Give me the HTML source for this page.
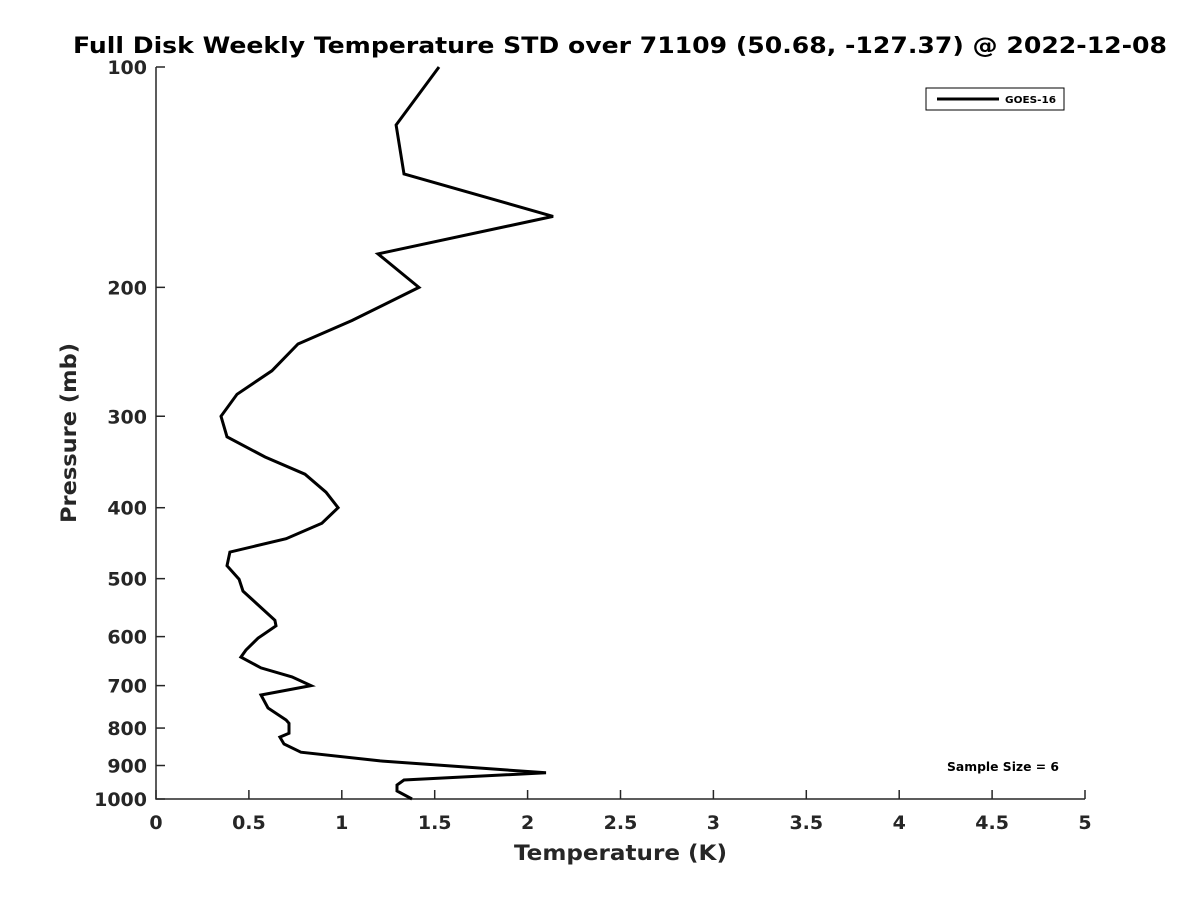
<!DOCTYPE html>
<html><head><meta charset="utf-8"><style>
body{margin:0;background:#fff;}
svg{display:block;font-family:"DejaVu Sans","Liberation Sans",sans-serif;}
</style></head><body>
<svg id="chart" width="1200" height="900" viewBox="0 0 1200 900">
<rect width="1200" height="900" fill="#fff"/>
<text x="73" y="53" font-size="22" font-weight="bold" fill="#000" textLength="1094" lengthAdjust="spacingAndGlyphs">Full Disk Weekly Temperature STD over 71109 (50.68, -127.37) @ 2022-12-08</text>
<g id="axes"></g>
<path id="profile" fill="none" stroke="#000" stroke-width="3" stroke-linejoin="miter"/>
<g>
<rect x="926" y="88" width="138" height="22" fill="#fff" stroke="#000" stroke-width="1"/>
<line x1="937" y1="99" x2="999" y2="99" stroke="#000" stroke-width="3"/>
<text x="1005" y="103" font-size="10" font-weight="bold" textLength="51" lengthAdjust="spacingAndGlyphs">GOES-16</text>
</g>
<text x="947" y="771" font-size="12" font-weight="bold" textLength="112" lengthAdjust="spacingAndGlyphs">Sample Size = 6</text>
<text x="514" y="860" font-size="21" font-weight="bold" fill="#262626" textLength="213" lengthAdjust="spacingAndGlyphs">Temperature (K)</text>
<text transform="translate(76,523) rotate(-90)" font-size="21" font-weight="bold" fill="#262626" textLength="180" lengthAdjust="spacingAndGlyphs">Pressure (mb)</text>
</svg>
<script>
const xTicks=[0,0.5,1,1.5,2,2.5,3,3.5,4,4.5,5];
const xTickLabels=["0","0.5","1","1.5","2","2.5","3","3.5","4","4.5","5"];
const yTicks=[100,200,300,400,500,600,700,800,900,1000];
const yTickLabels=["100","200","300","400","500","600","700","800","900","1000"];
const pressure=[100,120,140,160,180,200,222,239,260,280,300,320,341,360,381,400,420,441,460,480,501,520,570,580,603,626,640,662,681,700,721,751,780,788,813,823,841,863,887,921,942,957,975,1000];
const tempStd=[1.523,1.292,1.335,2.137,1.195,1.415,1.055,0.764,0.624,0.436,0.35,0.382,0.587,0.802,0.915,0.98,0.893,0.70,0.398,0.382,0.447,0.468,0.64,0.646,0.549,0.484,0.457,0.565,0.732,0.834,0.565,0.603,0.70,0.716,0.716,0.667,0.689,0.78,1.206,2.099,1.335,1.297,1.297,1.378];
const X0=156,X1=1085,Y0=67,Y1=799;
const xs=v=>X0+(v-0)/(5-0)*(X1-X0);
const ys=p=>Y0+(Math.log10(p)-2)/(3-2)*(Y1-Y0);
const NS="http://www.w3.org/2000/svg";
const ax=document.getElementById('axes');
function mk(t,a){const e=document.createElementNS(NS,t);for(const k in a)e.setAttribute(k,a[k]);return e;}
const axl=mk('path',{d:`M${X0},${Y0}V${Y1}H${X1}`,fill:'none',stroke:'#262626','stroke-width':1.5});


ax.appendChild(axl);
xTicks.forEach((v,i)=>{
  const t=mk('line',{x1:xs(v),x2:xs(v),y1:Y1,y2:Y1-9,stroke:'#262626','stroke-width':1.5});
  
  
  ax.appendChild(t);
  const l=mk('text',{x:xs(v),y:Y1+30,'text-anchor':'middle','font-size':19,'font-weight':'bold',fill:'#262626'});
  l.textContent=xTickLabels[i];
  
  
  ax.appendChild(l);
});
yTicks.forEach((p,i)=>{
  const t=mk('line',{x1:X0,x2:X0+9,y1:ys(p),y2:ys(p),stroke:'#262626','stroke-width':1.5});
  
  
  ax.appendChild(t);
  const l=mk('text',{x:X0-9,y:ys(p)+7,'text-anchor':'end','font-size':19,'font-weight':'bold',fill:'#262626'});
  l.textContent=yTickLabels[i];
  
  
  ax.appendChild(l);
});
document.getElementById('profile').setAttribute('d',pressure.map((p,i)=>(i?'L':'M')+xs(tempStd[i]).toFixed(1)+','+ys(p).toFixed(1)).join(''));
</script>
</body></html>
